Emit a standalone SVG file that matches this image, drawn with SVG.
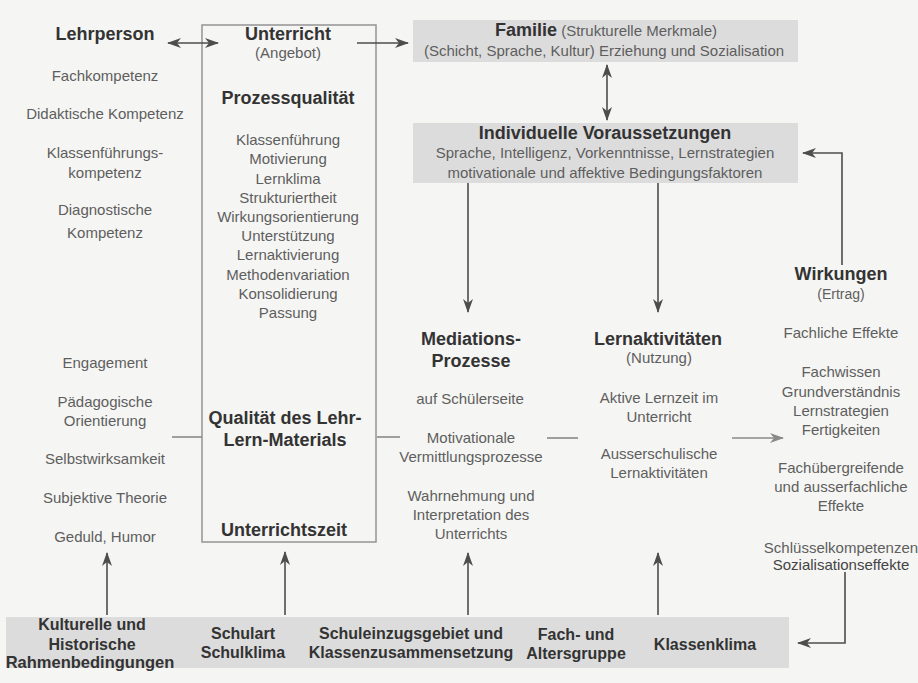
<svg xmlns="http://www.w3.org/2000/svg" width="918" height="683" viewBox="0 0 918 683">
<style>
text{font-family:"Liberation Sans",Arial,sans-serif;text-anchor:middle}
.n{font-size:15px;fill:#5e5e5e}
.b{font-size:18px;font-weight:bold;fill:#333}
.bb{font-size:16px;font-weight:bold;fill:#333}
.box{fill:#dcdcdc}
.ln{stroke:#4d4d4d;stroke-width:1.6;fill:none}
.lg{stroke:#8a8a8a;stroke-width:1.6;fill:none}
</style>
<defs>
<marker id="ah" viewBox="0 0 14 10" refX="13" refY="5" markerWidth="14" markerHeight="10" orient="auto-start-reverse" markerUnits="userSpaceOnUse"><path d="M0,0 L14,5 L0,10 L4,5 z" fill="#4d4d4d"/></marker>
<marker id="ahl" viewBox="0 0 14 10" refX="13" refY="5" markerWidth="14" markerHeight="10" orient="auto" markerUnits="userSpaceOnUse"><path d="M0,0 L14,5 L0,10 L4,5 z" fill="#8a8a8a"/></marker>
</defs>
<rect x="0" y="0" width="918" height="683" fill="#f5f5f3"/>

<g id="lehrperson">
<text class="b" x="105" y="40">Lehrperson</text>
<text class="n" x="105" y="81">Fachkompetenz</text>
<text class="n" x="105" y="119">Didaktische Kompetenz</text>
<text class="n" x="105" y="158">Klassenführungs-</text>
<text class="n" x="105" y="178">kompetenz</text>
<text class="n" x="105" y="215">Diagnostische</text>
<text class="n" x="105" y="238">Kompetenz</text>
<text class="n" x="105" y="368">Engagement</text>
<text class="n" x="105" y="407">Pädagogische</text>
<text class="n" x="105" y="426">Orientierung</text>
<text class="n" x="105" y="464">Selbstwirksamkeit</text>
<text class="n" x="105" y="503">Subjektive Theorie</text>
<text class="n" x="105" y="542">Geduld, Humor</text>
</g>

<g id="unterricht">
<rect x="202" y="25" width="174" height="517" fill="none" stroke="#9a9a9a" stroke-width="1.6"/>
<text class="b" x="288" y="40">Unterricht</text>
<text class="n" x="288" y="58">(Angebot)</text>
<text class="b" x="288" y="104">Prozessqualität</text>
<text class="n" x="288" y="145">Klassenführung</text>
<text class="n" x="288" y="164">Motivierung</text>
<text class="n" x="288" y="184">Lernklima</text>
<text class="n" x="288" y="203">Strukturiertheit</text>
<text class="n" x="288" y="222">Wirkungsorientierung</text>
<text class="n" x="288" y="241">Unterstützung</text>
<text class="n" x="288" y="260">Lernaktivierung</text>
<text class="n" x="288" y="280">Methodenvariation</text>
<text class="n" x="288" y="299">Konsolidierung</text>
<text class="n" x="288" y="318">Passung</text>
<text class="b" x="285" y="424">Qualität des Lehr-</text>
<text class="b" x="285" y="446">Lern-Materials</text>
<text class="b" x="284" y="536">Unterrichtszeit</text>
</g>

<g id="familie">
<rect class="box" x="413" y="20" width="385" height="42"/>
<text x="606" y="36"><tspan class="b">Familie</tspan><tspan class="n"> (Strukturelle Merkmale)</tspan></text>
<text class="n" x="604" y="56">(Schicht, Sprache, Kultur) Erziehung und Sozialisation</text>
</g>

<g id="individuelle">
<rect class="box" x="413" y="123" width="385" height="60"/>
<text class="b" x="605" y="139">Individuelle Voraussetzungen</text>
<text class="n" x="605" y="158">Sprache, Intelligenz, Vorkenntnisse, Lernstrategien</text>
<text class="n" x="605" y="178">motivationale und affektive Bedingungsfaktoren</text>
</g>

<g id="mediation">
<text class="b" x="471" y="345">Mediations-</text>
<text class="b" x="471" y="367">Prozesse</text>
<text class="n" x="470" y="404">auf Schülerseite</text>
<text class="n" x="471" y="443">Motivationale</text>
<text class="n" x="471" y="462">Vermittlungsprozesse</text>
<text class="n" x="471" y="501">Wahrnehmung und</text>
<text class="n" x="471" y="520">Interpretation des</text>
<text class="n" x="471" y="539">Unterrichts</text>
</g>

<g id="lernaktivitaeten">
<text class="b" x="658" y="345">Lernaktivitäten</text>
<text class="n" x="659" y="363">(Nutzung)</text>
<text class="n" x="659" y="403">Aktive Lernzeit im</text>
<text class="n" x="659" y="422">Unterricht</text>
<text class="n" x="659" y="459">Ausserschulische</text>
<text class="n" x="659" y="478">Lernaktivitäten</text>
</g>

<g id="wirkungen">
<text class="b" x="841" y="280">Wirkungen</text>
<text class="n" x="841" y="299" style="font-size:14px">(Ertrag)</text>
<text class="n" x="841" y="338">Fachliche Effekte</text>
<text class="n" x="841" y="377">Fachwissen</text>
<text class="n" x="841" y="397">Grundverständnis</text>
<text class="n" x="841" y="416">Lernstrategien</text>
<text class="n" x="841" y="435">Fertigkeiten</text>
<text class="n" x="841" y="473">Fachübergreifende</text>
<text class="n" x="841" y="492">und ausserfachliche</text>
<text class="n" x="841" y="511">Effekte</text>
<text class="n" x="841" y="553">Schlüsselkompetenzen</text>
<text class="n" x="841" y="570" style="fill:#444">Sozialisationseffekte</text>
</g>

<g id="rahmen">
<rect class="box" x="6" y="617" width="783" height="51"/>
<text class="bb" x="92" y="630">Kulturelle und</text>
<text class="bb" x="92" y="650">Historische</text>
<text class="bb" x="90" y="668" style="font-size:16.5px">Rahmenbedingungen</text>
<text class="bb" x="243" y="639">Schulart</text>
<text class="bb" x="243" y="658">Schulklima</text>
<text class="bb" x="411" y="639">Schuleinzugsgebiet und</text>
<text class="bb" x="411" y="658">Klassenzusammensetzung</text>
<text class="bb" x="576" y="640">Fach- und</text>
<text class="bb" x="576" y="659">Altersgruppe</text>
<text class="bb" x="705" y="650">Klassenklima</text>
</g>

<g id="connectors">
<line class="ln" x1="168" y1="43" x2="218" y2="43" marker-start="url(#ah)" marker-end="url(#ah)"/>
<line class="ln" x1="357" y1="43" x2="408" y2="43" marker-end="url(#ah)"/>
<line class="ln" x1="607" y1="65" x2="607" y2="120" marker-start="url(#ah)" marker-end="url(#ah)"/>
<line class="ln" x1="468" y1="183" x2="468" y2="312" marker-end="url(#ah)"/>
<line class="ln" x1="658" y1="183" x2="658" y2="312" marker-end="url(#ah)"/>
<polyline class="ln" points="842,265 842,153 803,153" marker-end="url(#ah)"/>
<line class="lg" x1="172" y1="437" x2="202" y2="437"/>
<line class="lg" x1="377" y1="437" x2="400" y2="437"/>
<line class="lg" x1="547" y1="438" x2="578" y2="438"/>
<line class="lg" x1="732" y1="438" x2="783" y2="438" marker-end="url(#ahl)"/>
<polyline class="ln" points="845,572 845,643 798,643" marker-end="url(#ah)"/>
<line class="ln" x1="107" y1="615" x2="107" y2="553" marker-end="url(#ah)"/>
<line class="ln" x1="285" y1="615" x2="285" y2="552" marker-end="url(#ah)"/>
<line class="ln" x1="468" y1="615" x2="468" y2="553" marker-end="url(#ah)"/>
<line class="ln" x1="658" y1="615" x2="658" y2="553" marker-end="url(#ah)"/>
</g>
</svg>
